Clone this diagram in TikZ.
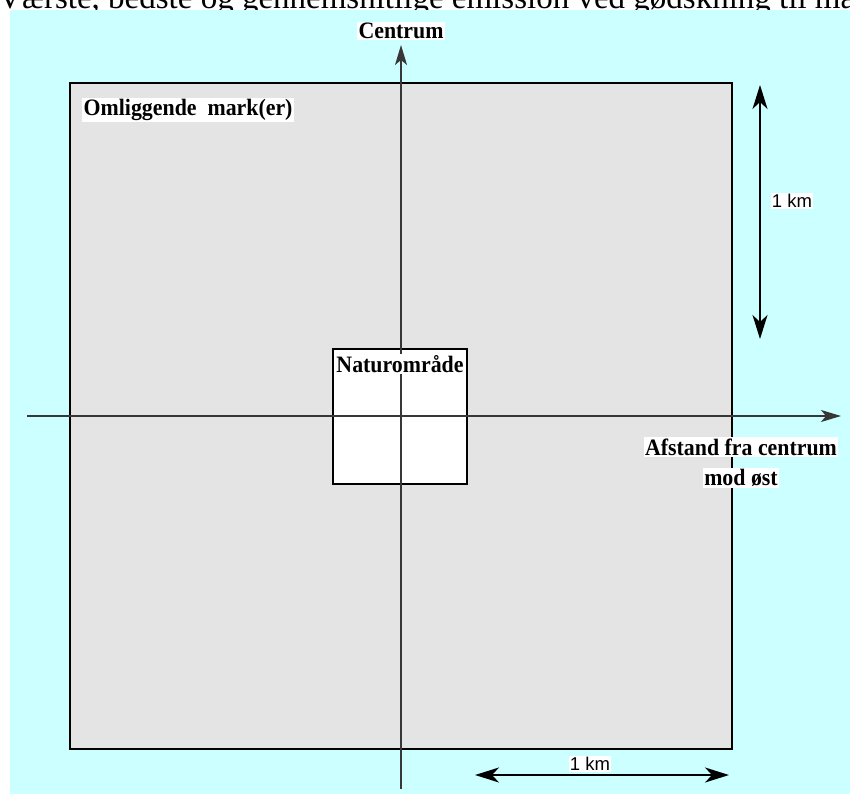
\documentclass[tikz,border=0pt]{standalone}
\usepackage{fontspec}
\setmainfont{Liberation Serif}
\newfontfamily\arialfont{Liberation Sans}
\newfontfamily\lblfont[FakeStretch=0.93]{Liberation Serif}
\usetikzlibrary{arrows.meta}
\definecolor{bgcyan}{RGB}{204,255,255}
\definecolor{fieldgray}{RGB}{228,228,228}
\definecolor{axisgray}{RGB}{55,55,55}
\begin{document}
\begin{tikzpicture}[x=1pt,y=-1pt,
  lbl/.style={fill=white, inner xsep=1.5pt, inner ysep=1.5pt, font=\lblfont\bfseries\fontsize{23.5}{25}\selectfont},
  kmlbl/.style={fill=white, inner sep=1pt, font=\arialfont\fontsize{18.5}{20}\selectfont},
  axisline/.style={draw=axisgray, line width=1.5pt, -{Stealth[length=20pt,width=12pt,inset=5pt]}},
  dimline/.style={draw=black, line width=2pt, {Stealth[length=24pt,width=15pt,inset=7pt]}-{Stealth[length=24pt,width=15pt,inset=7pt]}}]
\useasboundingbox (0,0) rectangle (850,794);
\clip (0,0) rectangle (850,794);
% clipped title at top
\node[anchor=base west, inner sep=0pt, font=\fontsize{33}{36}\selectfont] (title) at (-2,9) {Værste, bedste og gennemsnitlige emission ved gødskning til mark};
% cyan background
\fill[bgcyan] (10,10) rectangle (850,794);
% surrounding field
\node[draw=black, fill=fieldgray, line width=2.5pt, minimum width=662pt, minimum height=666pt, inner sep=0pt] (field) at (401,416) {};
% nature area
\node[draw=black, fill=white, line width=2pt, minimum width=134pt, minimum height=135pt, inner sep=0pt] (natur) at (400,416.5) {};
% axes
\coordinate (xs) at (27,416);
\coordinate (xe) at (841,416);
\coordinate (ys) at (401,789);
\coordinate (ye) at (401,45);
\draw[axisline] (xs) -- (xe);
\draw[axisline] (ys) -- (ye);
% labels
\node[lbl] (centrum) at (401,31) {Centrum};
\node[lbl, anchor=west] (omlig) at (82,110) {Omliggende\ \ mark(er)};
\node[lbl, inner xsep=0.5pt] (naturlbl) at (400,364) {Naturområde};
\node[lbl] (afst1) at (741,447) {Afstand fra centrum};
\node[lbl] (afst2) at (741,478) {mod øst};
% dimension arrows
\coordinate (v1) at (760,85);
\coordinate (v2) at (760,339);
\coordinate (h1) at (475,775);
\coordinate (h2) at (729,775);
\draw[dimline] (v1) -- (v2);
\draw[dimline] (h1) -- (h2);
\node[kmlbl] (kmv) at (792,201) {1 km};
\node[kmlbl] (kmh) at (590,764) {1 km};
\end{tikzpicture}
\end{document}
